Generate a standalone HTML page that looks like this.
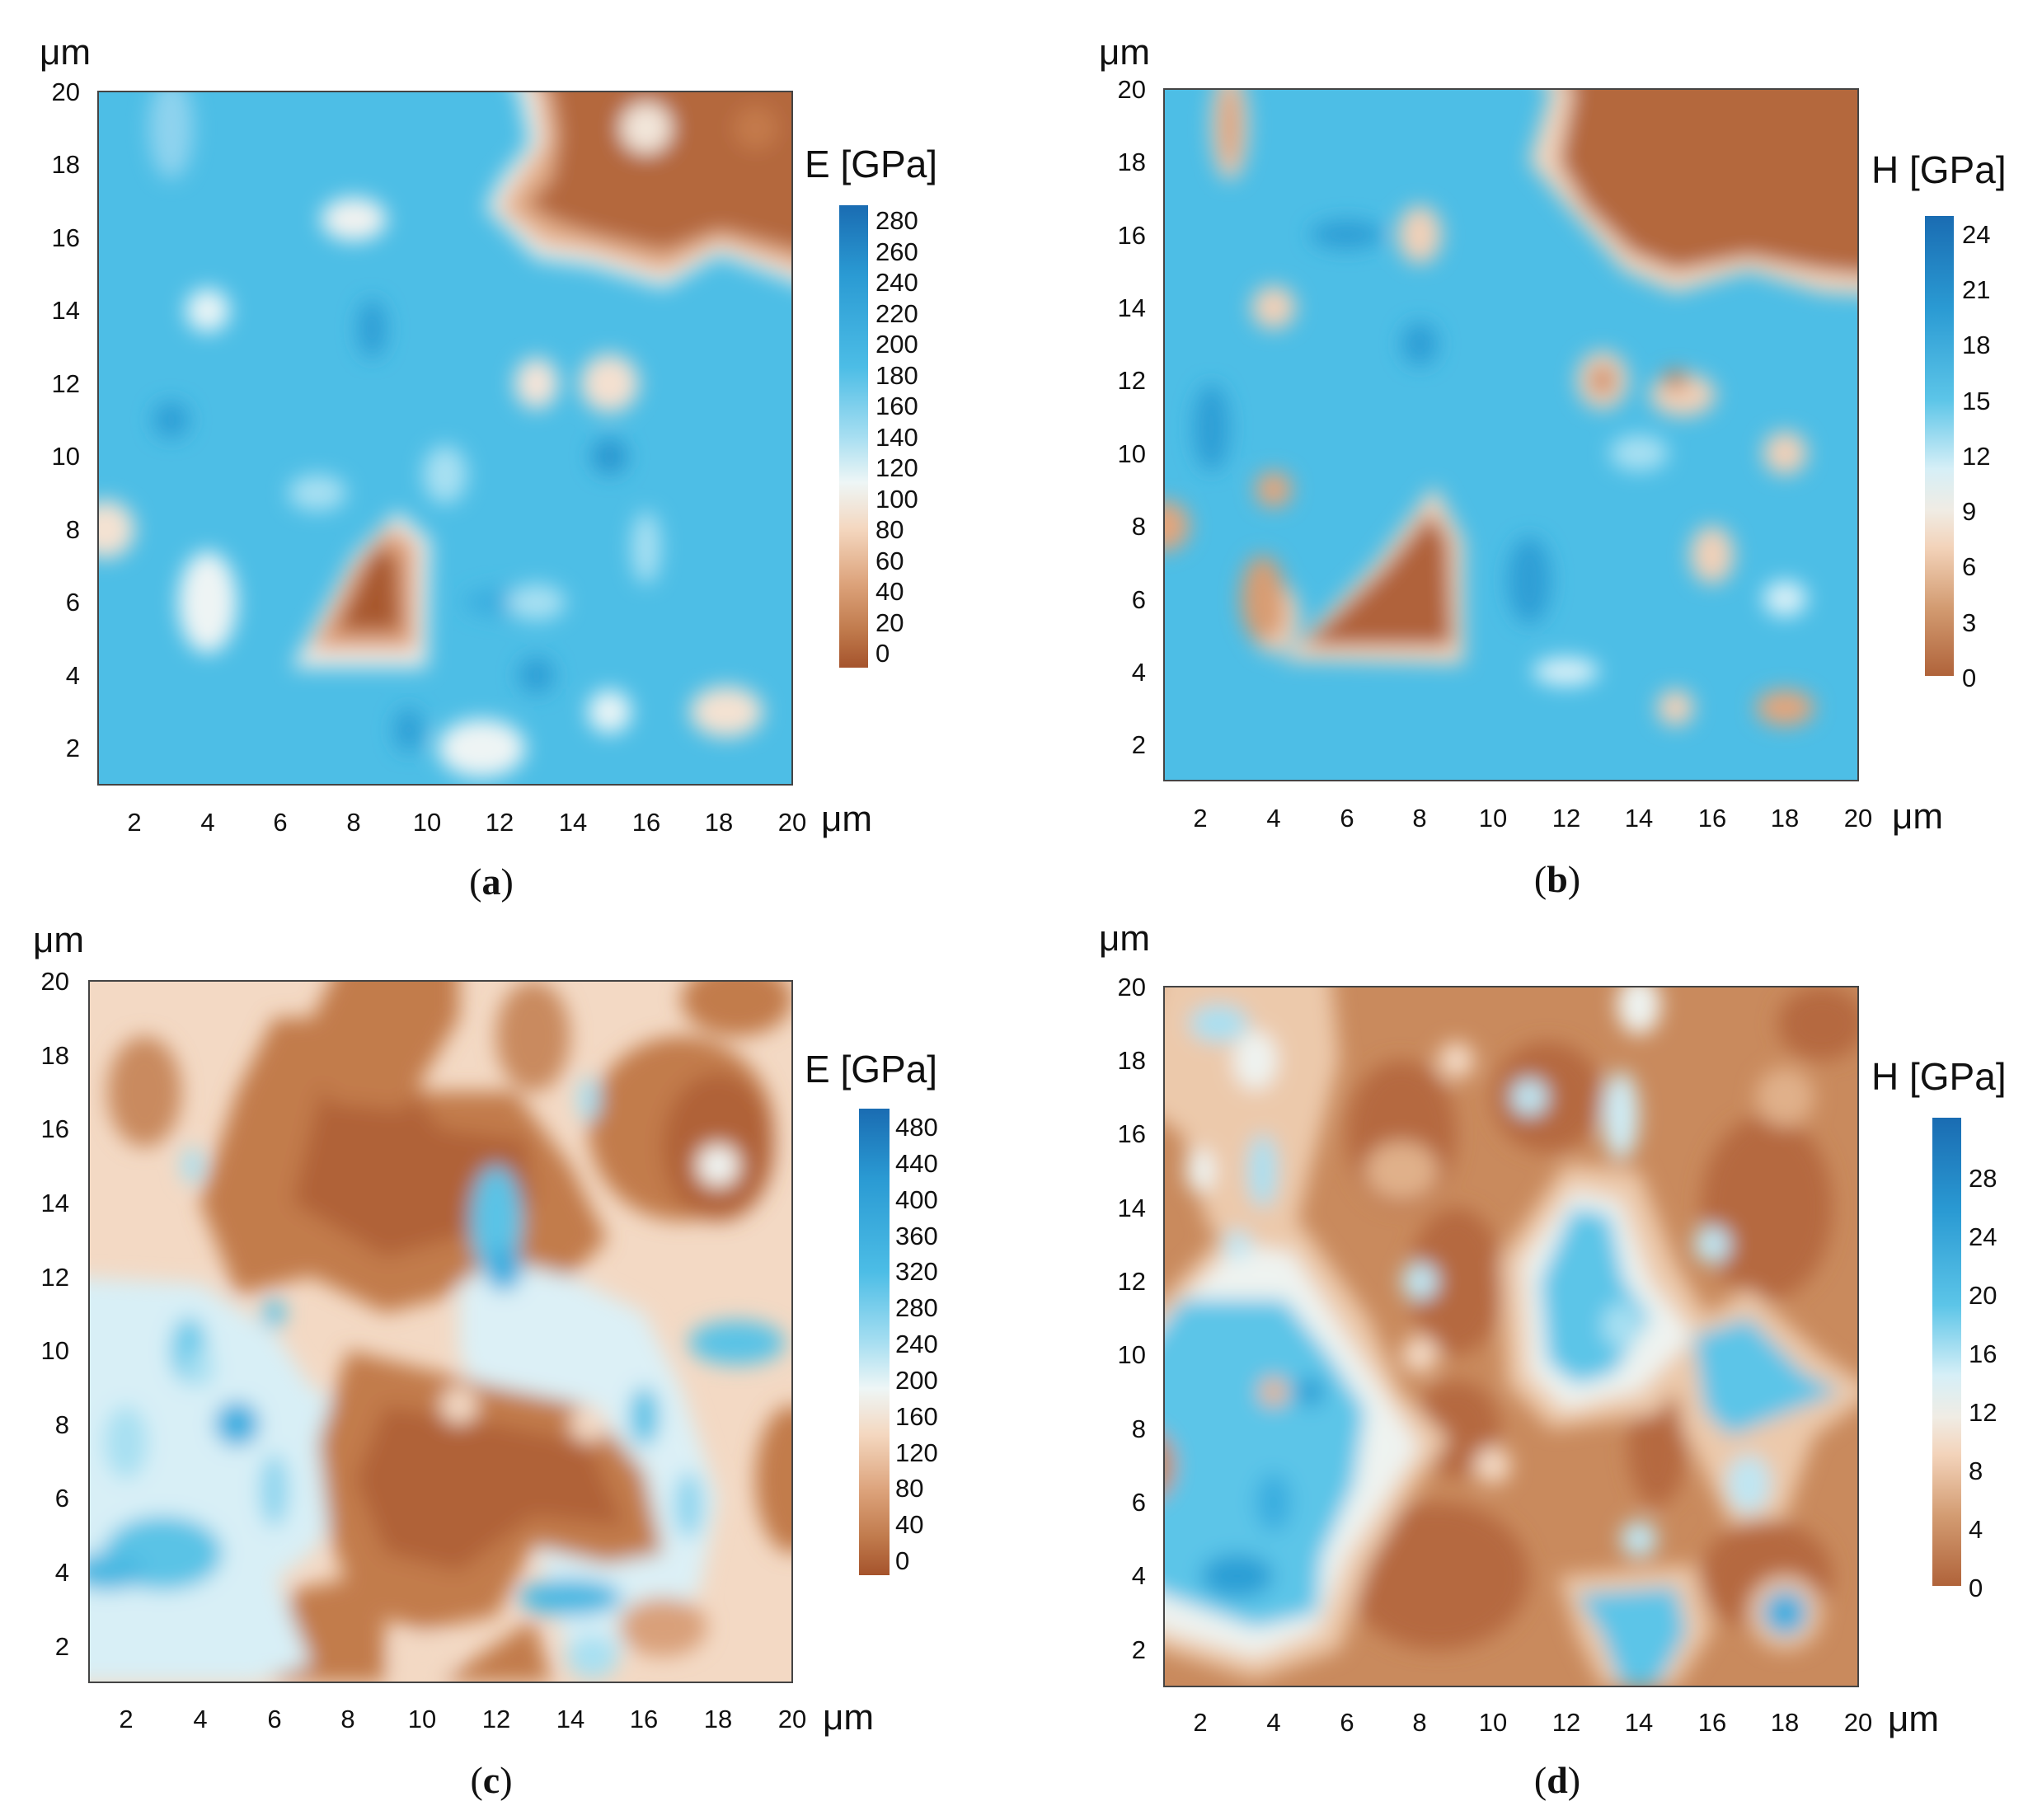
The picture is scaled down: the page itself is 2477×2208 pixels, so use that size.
<!DOCTYPE html>
<html><head><meta charset="utf-8"><style>
html,body{margin:0;padding:0;background:#fff}
svg{display:block}
text{font-family:"Liberation Sans",sans-serif;fill:#111}
.t{font-size:31px}
.u{font-size:44px}
.ti{font-size:46px}
.cap{font-family:"Liberation Serif",serif;font-size:46px}
</style></head><body>
<svg width="2477" height="2208" viewBox="0 0 2477 2208" xmlns="http://www.w3.org/2000/svg">
<defs>
<filter id="b" x="-20%" y="-20%" width="140%" height="140%"><feGaussianBlur stdDeviation="0.28"/></filter>
<linearGradient id="cbE" x1="0" y1="0" x2="0" y2="1">
<stop offset="0" stop-color="#1a6cb2"/><stop offset="0.15" stop-color="#2a9ad3"/><stop offset="0.35" stop-color="#4cbde6"/><stop offset="0.5" stop-color="#a6def1"/><stop offset="0.6" stop-color="#eef6f6"/><stop offset="0.7" stop-color="#f4d7bf"/><stop offset="0.82" stop-color="#dca27a"/><stop offset="0.92" stop-color="#c07a4c"/><stop offset="1" stop-color="#a5532c"/></linearGradient>
<linearGradient id="cbH" x1="0" y1="0" x2="0" y2="1">
<stop offset="0" stop-color="#1a6cb2"/><stop offset="0.2" stop-color="#2a9ad3"/><stop offset="0.4" stop-color="#5cc5e8"/><stop offset="0.55" stop-color="#d6eff7"/><stop offset="0.64" stop-color="#f0ece4"/><stop offset="0.72" stop-color="#f3d3ba"/><stop offset="0.85" stop-color="#d39c72"/><stop offset="1" stop-color="#b0633a"/></linearGradient>
<clipPath id="cp"><rect x="0" y="0" width="19" height="19"/></clipPath>
</defs>

<!-- Panel A -->
<svg x="119" y="111" width="842" height="841" viewBox="0 0 19 19" preserveAspectRatio="none">
<g clip-path="url(#cp)">
<rect x="-1" y="-1" width="21" height="21" fill="#4dbee6"/>
<g filter="url(#b)">
<ellipse cx="7.5" cy="6.5" rx="0.4" ry="0.8" fill="#2e9fd6"/>
<ellipse cx="2" cy="9" rx="0.5" ry="0.5" fill="#2e9fd6"/>
<ellipse cx="14" cy="10" rx="0.5" ry="0.5" fill="#2a97d0"/>
<ellipse cx="12" cy="16" rx="0.5" ry="0.5" fill="#2e9fd6"/>
<ellipse cx="8.5" cy="17.5" rx="0.4" ry="0.6" fill="#2e9fd6"/>
<ellipse cx="11.2" cy="14" rx="1.2" ry="0.4" fill="#3aaee0"/>
<ellipse cx="2" cy="1" rx="0.6" ry="1.4" fill="#8fd3ee"/>
<ellipse cx="7" cy="3.5" rx="0.9" ry="0.6" fill="#f0f2f0"/>
<ellipse cx="3" cy="6" rx="0.6" ry="0.6" fill="#e8f4f6"/>
<ellipse cx="12" cy="8" rx="0.6" ry="0.7" fill="#f4e4d8"/>
<ellipse cx="14" cy="8" rx="0.8" ry="0.8" fill="#f4e0d0"/>
<ellipse cx="3" cy="14" rx="0.8" ry="1.4" fill="#eef4f4"/>
<ellipse cx="10.5" cy="18" rx="1.2" ry="0.8" fill="#eef4f4"/>
<ellipse cx="17.2" cy="17" rx="1" ry="0.7" fill="#f4e2d2"/>
<ellipse cx="14" cy="17" rx="0.6" ry="0.6" fill="#e8f4f6"/>
<ellipse cx="0.2" cy="12" rx="0.8" ry="0.8" fill="#f4e2d2"/>
<ellipse cx="15" cy="12.5" rx="0.4" ry="1" fill="#a8e0f2"/>
<ellipse cx="9.5" cy="10.5" rx="0.6" ry="0.8" fill="#a8e0f2"/>
<ellipse cx="6" cy="11" rx="0.8" ry="0.5" fill="#a8e0f2"/>
<ellipse cx="12" cy="14" rx="0.8" ry="0.5" fill="#a8e0f2"/>
<path d="M10.8 -1 L20 -1 L20 5.6 L17 4.5 L15.5 5.4 L13.5 4.8 L12 4.6 L10.6 3.2 L11 2.4 L11.8 1.4 L11.5 0 Z" fill="#f0ece6"/>
<path d="M11.2 -1 L20 -1 L20 5.2 L17 4.2 L15.5 5 L13.5 4.4 L12.2 4.2 L11 3.2 L11.5 2.4 L12.2 1.4 L12 0 Z" fill="#e4b08c"/>
<path d="M11.7 -1 L20 -1 L20 4.6 L17 3.8 L15.5 4.4 L13.5 3.9 L12.6 3.6 L11.7 3.1 L12.4 2.4 L12.6 1.2 L12.4 0 Z" fill="#b4683c"/>
<circle cx="15" cy="1" r="0.7" fill="#f2e6da"/>
<circle cx="18" cy="1" r="0.6" fill="#c47a4c"/>
<path d="M5.3 15.8 L9 15.8 L9.1 12.3 L8.2 11.5 L7 12.7 Z" fill="#f0ece6"/>
<path d="M5.8 15.3 L8.7 15.3 L8.7 12.4 L8 11.9 L7 13 Z" fill="#dfa27c"/>
<path d="M6.5 14.8 L8.3 14.8 L8.2 12.8 L7.6 12.4 Z" fill="#a8582f"/>
</g>
</g></svg>

<!-- Panel B -->
<svg x="1412" y="108" width="842" height="839" viewBox="0 0 19 19" preserveAspectRatio="none">
<g clip-path="url(#cp)">
<rect x="-1" y="-1" width="21" height="21" fill="#4dbee6"/>
<g filter="url(#b)">
<ellipse cx="1.3" cy="9.3" rx="0.5" ry="1.2" fill="#2e9fd6"/>
<ellipse cx="7" cy="7" rx="0.5" ry="0.6" fill="#2e9fd6"/>
<ellipse cx="10" cy="13.5" rx="0.6" ry="1.2" fill="#2e9fd6"/>
<ellipse cx="5" cy="4" rx="1" ry="0.4" fill="#2e9fd6"/>
<ellipse cx="1.8" cy="1" rx="0.5" ry="1.5" fill="#f1d2bb"/>
<ellipse cx="1.8" cy="1" rx="0.25" ry="1.2" fill="#d79a70"/>
<ellipse cx="7" cy="4" rx="0.6" ry="0.8" fill="#f0d0b8"/>
<ellipse cx="3" cy="6" rx="0.6" ry="0.6" fill="#f0d0b8"/>
<ellipse cx="3" cy="11" rx="0.5" ry="0.5" fill="#e3a57c"/>
<ellipse cx="12" cy="8" rx="0.7" ry="0.8" fill="#f0d0b8"/>
<ellipse cx="12" cy="8" rx="0.3" ry="0.4" fill="#c87d4d"/>
<ellipse cx="14.2" cy="8.4" rx="0.9" ry="0.6" fill="#f0d0b8"/>
<ellipse cx="14" cy="8" rx="0.3" ry="0.3" fill="#c87d4d"/>
<ellipse cx="17" cy="10" rx="0.6" ry="0.6" fill="#f0d0b8"/>
<ellipse cx="15" cy="12.8" rx="0.6" ry="0.8" fill="#f0d0b8"/>
<ellipse cx="17" cy="17" rx="0.8" ry="0.5" fill="#e3a57c"/>
<ellipse cx="14" cy="17" rx="0.5" ry="0.5" fill="#f0d0b8"/>
<ellipse cx="0" cy="12" rx="0.7" ry="0.7" fill="#e3a57c"/>
<ellipse cx="3" cy="14.5" rx="0.7" ry="1" fill="#f0d0b8"/>
<ellipse cx="3" cy="14.5" rx="0.3" ry="0.5" fill="#d28f64"/>
<ellipse cx="11" cy="16" rx="0.9" ry="0.4" fill="#d6eff7"/>
<ellipse cx="17" cy="14" rx="0.6" ry="0.5" fill="#d6eff7"/>
<ellipse cx="13" cy="10" rx="0.8" ry="0.5" fill="#a8e0f2"/>
<path d="M9.6 -1 L20 -1 L20 5.7 L18 5.6 L16 5 L14 5.6 L12.6 5 L11 3.2 L10 2 L10.6 0 Z" fill="#f2d6c0"/>
<path d="M10.3 -1 L20 -1 L20 5.2 L18 5 L16 4.6 L14 5 L12.8 4.5 L11.5 3.2 L10.8 2 L11.2 0 Z" fill="#b4683c"/>
<path d="M3.2 15.7 L8.2 15.8 L8.2 12.4 L7.4 10.9 L5.8 13 Z" fill="#f2d6c0"/>
<path d="M3.8 15.3 L7.9 15.3 L7.8 12.4 L7.3 11.6 L6 13.2 Z" fill="#b0623a"/>
<ellipse cx="2.7" cy="14" rx="0.6" ry="1.2" fill="#d89c72"/>
</g>
</g></svg>

<!-- Panel C -->
<svg x="108" y="1190" width="853" height="851" viewBox="0 0 19 19" preserveAspectRatio="none">
<g clip-path="url(#cp)">
<rect x="-1" y="-1" width="21" height="21" fill="#f3d9c4"/>
<g filter="url(#b)">
<path d="M-1 8 L3 8.2 L5 9.5 L6 11 L8 12 L7.5 13.5 L6 15.5 L4 17 L2 19 L-1 19 Z" fill="#d8eff6"/>
<path d="M10 6.5 L12 6 L13 8 L15 9 L16 11 L17 14 L16.5 16.5 L15 18 L13 18.5 L12 15 L11 13 L10 10 Z" fill="#dcf0f6"/>
<path d="M5 1 L8 1 L9 3 L11.5 3 L13 5 L14 7 L13 8 L11 7.5 L9.5 8.6 L8 9 L6 8 L4 8.5 L3 6 L4 3 Z" fill="#c27c4c"/>
<path d="M6.5 2 L8 2 L9.5 4 L11.8 4.3 L12 6 L10.5 6.8 L8 7.5 L5.5 6 Z" fill="#b06238"/>
<path d="M7 10 L9 10.5 L11 11 L13.5 11.5 L15 13.3 L15.5 15.5 L14 15.8 L12 15.3 L11 17.2 L9 17.6 L7.2 17 L6.5 15 L6.2 12.5 Z" fill="#c27c4c"/>
<path d="M8 11.5 L11 12 L13.5 12.5 L14.5 14.8 L12 14.5 L10 16 L8 15.5 L7.2 13.5 Z" fill="#b06238"/>
<path d="M9.5 19 L12 17.3 L12.5 19 Z" fill="#c27c4c"/>
<path d="M5.5 16.5 L8 16 L8 19 L5 19 Z" fill="#c27c4c"/>
<ellipse cx="9" cy="18.3" rx="0.8" ry="0.6" fill="#f3d9c4"/>
<ellipse cx="16" cy="4" rx="2.5" ry="2.5" fill="#c27c4c"/>
<ellipse cx="17" cy="4.5" rx="1.5" ry="2" fill="#b06238"/>
<ellipse cx="19" cy="13.5" rx="1" ry="2" fill="#c27c4c"/>
<ellipse cx="17.5" cy="0.5" rx="1.5" ry="1" fill="#c27c4c"/>
<ellipse cx="15.5" cy="17.5" rx="1.2" ry="0.8" fill="#d9a07a"/>
<ellipse cx="1.5" cy="3" rx="1" ry="1.5" fill="#c98a5e"/>
<ellipse cx="12" cy="1.5" rx="1" ry="1.5" fill="#c98a5e"/>
<path d="M7 -1 L10 -1 L10 1 L8.5 3.5 L6.5 3.3 L5.8 1.5 Z" fill="#c27c4c"/>
<ellipse cx="10" cy="11.5" rx="0.5" ry="0.5" fill="#f3d9c4"/>
<ellipse cx="13.5" cy="12" rx="0.5" ry="0.5" fill="#f3d9c4"/>
<ellipse cx="17" cy="5" rx="0.6" ry="0.6" fill="#f3d9c4"/>
<path d="M-1 18 L1 16.5 L3.5 14.5 L5 16 L6 18.5 L4.5 19 L-1 19 Z" fill="#d8eff6"/>
<ellipse cx="2" cy="15.5" rx="1.6" ry="1" fill="#5ac3e6"/>
<ellipse cx="0.5" cy="16" rx="1" ry="0.5" fill="#4ab8e2"/>
<ellipse cx="2.7" cy="10" rx="0.5" ry="0.9" fill="#6ecbea"/>
<ellipse cx="4" cy="12" rx="0.6" ry="0.6" fill="#3aaee0"/>
<ellipse cx="3" cy="10.5" rx="0.4" ry="0.5" fill="#a8e0f2"/>
<ellipse cx="5" cy="9" rx="0.3" ry="0.4" fill="#5ac3e6"/>
<ellipse cx="1" cy="12.5" rx="0.6" ry="1" fill="#a8e0f2"/>
<ellipse cx="5" cy="13.8" rx="0.4" ry="1" fill="#8fd6ef"/>
<ellipse cx="11" cy="6.5" rx="0.7" ry="1.5" fill="#5ac3e6"/>
<ellipse cx="11.2" cy="7.8" rx="0.5" ry="0.6" fill="#3aaee0"/>
<ellipse cx="17.5" cy="9.8" rx="1.3" ry="0.6" fill="#5ac3e6"/>
<ellipse cx="15" cy="11.8" rx="0.4" ry="0.8" fill="#5ac3e6"/>
<ellipse cx="16.2" cy="14.2" rx="0.4" ry="0.9" fill="#8fd6ef"/>
<ellipse cx="13" cy="16.7" rx="1.4" ry="0.5" fill="#4ab8e2"/>
<ellipse cx="13.6" cy="18.3" rx="0.7" ry="0.6" fill="#a8e0f2"/>
<ellipse cx="13.5" cy="3.2" rx="0.3" ry="0.6" fill="#a8e0f2"/>
<ellipse cx="2.8" cy="5" rx="0.3" ry="0.5" fill="#a8e0f2"/>
<ellipse cx="17" cy="5" rx="0.45" ry="0.45" fill="#eef6f6"/>
</g>
</g></svg>

<!-- Panel D -->
<svg x="1412" y="1197" width="842" height="849" viewBox="0 0 19 19" preserveAspectRatio="none">
<g clip-path="url(#cp)">
<rect x="-1" y="-1" width="21" height="21" fill="#c98a5d"/>
<g filter="url(#b)">
<ellipse cx="3" cy="2" rx="1.5" ry="2" fill="#b5693f"/>
<ellipse cx="6.5" cy="4" rx="1.5" ry="2" fill="#b5693f"/>
<ellipse cx="8" cy="8" rx="1.3" ry="2" fill="#b5693f"/>
<ellipse cx="10.5" cy="3" rx="1.5" ry="1.5" fill="#b5693f"/>
<ellipse cx="16.5" cy="6" rx="1.8" ry="2.5" fill="#b5693f"/>
<ellipse cx="8" cy="12" rx="1.2" ry="1.3" fill="#b5693f"/>
<ellipse cx="13.5" cy="12.5" rx="0.8" ry="1.6" fill="#b5693f"/>
<ellipse cx="7.5" cy="16" rx="2.5" ry="2" fill="#b5693f"/>
<ellipse cx="16.5" cy="16" rx="1.8" ry="1.5" fill="#b5693f"/>
<ellipse cx="18" cy="1" rx="1.2" ry="1" fill="#b5693f"/>
<ellipse cx="6.5" cy="5" rx="1" ry="0.8" fill="#e0b08a"/>
<ellipse cx="17" cy="3" rx="0.8" ry="0.8" fill="#e0b08a"/>
<!-- tan halos -->
<path d="M0 -1 L4.5 -1 L4.8 2 L4 5 L3.5 7 L2.5 7.5 L1.2 6.5 L0.5 4 L-1 3 Z" fill="#ecc9ab"/>
<path d="M-1 9.5 L2 6.3 L3.8 6.5 L5.6 9 L6.5 11 L7.8 12.3 L6.6 14 L5.6 15.7 L4.8 18 L2.5 18.8 L0 18 L-1 17.5 Z" fill="#ecc9ab"/>
<path d="M9.2 7.4 L11 4.8 L13 5 L14 7.5 L15.2 9.5 L13.5 11.6 L12 11.8 L10.6 12 L9.4 10.8 Z" fill="#ecc9ab"/>
<path d="M13.8 9.6 L16 8.2 L18 10 L19.5 11 L17.8 12.2 L17 14.4 L15.5 14.6 L14.2 12 Z" fill="#ecc9ab"/>
<path d="M10.8 16 L14.5 15.7 L15 17.5 L14 19 L12 19 L11.3 17.6 Z" fill="#ecc9ab"/>
<circle cx="17" cy="17" r="1" fill="#ecc9ab"/>
<path d="M-1 10 L2 7 L3.5 7.2 L5 9.5 L6 11 L7 12.5 L6 14 L5 15.5 L4.2 17.5 L2.5 18.2 L0 17.5 L-1 17 Z" fill="#eef3f0"/>
<path d="M-1 10.5 L0.5 8.5 L3.3 8.5 L4.5 10 L5.5 11.5 L5.2 13.5 L4.3 15.5 L4.2 17 L2.5 17.4 L0 16.5 L-1 16 Z" fill="#5cc5e8"/>
<ellipse cx="2" cy="16" rx="1" ry="0.6" fill="#2c9fd6"/>
<ellipse cx="3" cy="14" rx="0.5" ry="0.8" fill="#3aaee0"/>
<ellipse cx="4" cy="11" rx="0.4" ry="0.4" fill="#2c9fd6"/>
<ellipse cx="3" cy="11" rx="0.4" ry="0.4" fill="#e6b48e"/>
<ellipse cx="-0.5" cy="13" rx="0.8" ry="1" fill="#c98a5d"/>
<path d="M9.8 7.5 L11.2 5.5 L12.5 5.8 L13.3 8 L14.5 9.5 L13 11 L12 11.2 L11 11.5 L10 10.5 Z" fill="#eef3f0"/>
<path d="M10.3 8 L11.2 6 L12.2 6.2 L12.6 8 L13.3 9 L12.3 10.5 L11.3 10.8 L10.5 10.2 Z" fill="#5cc5e8"/>
<ellipse cx="12.5" cy="9.2" rx="0.5" ry="0.6" fill="#a8e0f2"/>
<path d="M14.5 9.5 L16 9 L17.5 10.5 L18.5 11 L17.2 11.5 L15.5 12.2 L14.8 11.5 Z" fill="#5cc5e8"/>
<ellipse cx="16" cy="13.5" rx="0.6" ry="0.8" fill="#bfe6f3"/>
<ellipse cx="12.5" cy="3.5" rx="0.5" ry="1.2" fill="#cfecf5"/>
<path d="M11.3 16.5 L14 16.3 L14.3 17.5 L13.5 19 L12.5 19 L12 17.6 Z" fill="#5cc5e8"/>
<ellipse cx="17" cy="17" rx="0.6" ry="0.6" fill="#3aaee0"/>
<ellipse cx="1.5" cy="1" rx="0.8" ry="0.5" fill="#a8e0f2"/>
<ellipse cx="2.5" cy="2" rx="0.6" ry="0.8" fill="#eef3f0"/>
<ellipse cx="2.7" cy="5" rx="0.4" ry="1" fill="#a8e0f2"/>
<ellipse cx="1" cy="5" rx="0.4" ry="0.6" fill="#eef3f0"/>
<ellipse cx="2" cy="7" rx="0.4" ry="0.4" fill="#bfe6f3"/>
<ellipse cx="7" cy="8" rx="0.5" ry="0.5" fill="#bfe6f3"/>
<ellipse cx="10" cy="3" rx="0.5" ry="0.5" fill="#bfe6f3"/>
<ellipse cx="15" cy="7" rx="0.5" ry="0.5" fill="#bfe6f3"/>
<ellipse cx="13" cy="15" rx="0.5" ry="0.5" fill="#bfe6f3"/>
<ellipse cx="7" cy="10" rx="0.5" ry="0.5" fill="#f3d9c4"/>
<ellipse cx="9" cy="13" rx="0.5" ry="0.5" fill="#f3d9c4"/>
<ellipse cx="13" cy="0.5" rx="0.6" ry="0.8" fill="#eef3f0"/>
<ellipse cx="8" cy="2" rx="0.5" ry="0.5" fill="#f3d9c4"/>
</g>
</g></svg>

<g fill="none" stroke="#444" stroke-width="2">
<rect x="119" y="111" width="842" height="841"/>
<rect x="1412" y="108" width="842" height="839"/>
<rect x="108" y="1190" width="853" height="851"/>
<rect x="1412" y="1197" width="842" height="849"/>
</g>

<g class="t" text-anchor="end">
<text x="97" y="122">20</text><text x="97" y="210">18</text><text x="97" y="299">16</text><text x="97" y="387">14</text><text x="97" y="476">12</text><text x="97" y="564">10</text><text x="97" y="653">8</text><text x="97" y="741">6</text><text x="97" y="830">4</text><text x="97" y="918">2</text>
</g>
<g class="t" text-anchor="middle">
<text x="163" y="1008">2</text><text x="252" y="1008">4</text><text x="340" y="1008">6</text><text x="429" y="1008">8</text><text x="518" y="1008">10</text><text x="606" y="1008">12</text><text x="695" y="1008">14</text><text x="784" y="1008">16</text><text x="872" y="1008">18</text><text x="961" y="1008">20</text>
</g>
<text class="u" x="48" y="78">μm</text>
<text class="u" x="996" y="1008">μm</text>
<text class="cap" x="596" y="1085" text-anchor="middle">(<tspan font-weight="bold">a</tspan>)</text>
<text class="ti" x="976" y="215">E [GPa]</text>
<rect x="1018" y="249" width="35" height="561" fill="url(#cbE)"/>
<g class="t"><text x="1062" y="278">280</text><text x="1062" y="316">260</text><text x="1062" y="353">240</text><text x="1062" y="391">220</text><text x="1062" y="428">200</text><text x="1062" y="466">180</text><text x="1062" y="503">160</text><text x="1062" y="541">140</text><text x="1062" y="578">120</text><text x="1062" y="616">100</text><text x="1062" y="653">80</text><text x="1062" y="691">60</text><text x="1062" y="728">40</text><text x="1062" y="766">20</text><text x="1062" y="803">0</text></g>

<g class="t" text-anchor="end">
<text x="1390" y="119">20</text><text x="1390" y="207">18</text><text x="1390" y="296">16</text><text x="1390" y="384">14</text><text x="1390" y="472">12</text><text x="1390" y="561">10</text><text x="1390" y="649">8</text><text x="1390" y="738">6</text><text x="1390" y="826">4</text><text x="1390" y="914">2</text>
</g>
<g class="t" text-anchor="middle">
<text x="1456" y="1003">2</text><text x="1545" y="1003">4</text><text x="1634" y="1003">6</text><text x="1722" y="1003">8</text><text x="1811" y="1003">10</text><text x="1900" y="1003">12</text><text x="1988" y="1003">14</text><text x="2077" y="1003">16</text><text x="2165" y="1003">18</text><text x="2254" y="1003">20</text>
</g>
<text class="u" x="1333" y="78">μm</text>
<text class="u" x="2295" y="1005">μm</text>
<text class="cap" x="1889" y="1082" text-anchor="middle">(<tspan font-weight="bold">b</tspan>)</text>
<text class="ti" x="2270" y="222">H [GPa]</text>
<rect x="2335" y="262" width="35" height="558" fill="url(#cbH)"/>
<g class="t"><text x="2380" y="295">24</text><text x="2380" y="362">21</text><text x="2380" y="429">18</text><text x="2380" y="497">15</text><text x="2380" y="564">12</text><text x="2380" y="631">9</text><text x="2380" y="698">6</text><text x="2380" y="766">3</text><text x="2380" y="833">0</text></g>

<g class="t" text-anchor="end">
<text x="84" y="1201">20</text><text x="84" y="1291">18</text><text x="84" y="1380">16</text><text x="84" y="1470">14</text><text x="84" y="1560">12</text><text x="84" y="1649">10</text><text x="84" y="1739">8</text><text x="84" y="1828">6</text><text x="84" y="1918">4</text><text x="84" y="2008">2</text>
</g>
<g class="t" text-anchor="middle">
<text x="153" y="2096">2</text><text x="243" y="2096">4</text><text x="333" y="2096">6</text><text x="422" y="2096">8</text><text x="512" y="2096">10</text><text x="602" y="2096">12</text><text x="692" y="2096">14</text><text x="781" y="2096">16</text><text x="871" y="2096">18</text><text x="961" y="2096">20</text>
</g>
<text class="u" x="40" y="1155">μm</text>
<text class="u" x="998" y="2098">μm</text>
<text class="cap" x="596" y="2175" text-anchor="middle">(<tspan font-weight="bold">c</tspan>)</text>
<text class="ti" x="976" y="1313">E [GPa]</text>
<rect x="1042" y="1345" width="37" height="566" fill="url(#cbE)"/>
<g class="t"><text x="1086" y="1378">480</text><text x="1086" y="1422">440</text><text x="1086" y="1466">400</text><text x="1086" y="1510">360</text><text x="1086" y="1553">320</text><text x="1086" y="1597">280</text><text x="1086" y="1641">240</text><text x="1086" y="1685">200</text><text x="1086" y="1729">160</text><text x="1086" y="1773">120</text><text x="1086" y="1816">80</text><text x="1086" y="1860">40</text><text x="1086" y="1904">0</text></g>

<g class="t" text-anchor="end">
<text x="1390" y="1208">20</text><text x="1390" y="1297">18</text><text x="1390" y="1386">16</text><text x="1390" y="1476">14</text><text x="1390" y="1565">12</text><text x="1390" y="1654">10</text><text x="1390" y="1744">8</text><text x="1390" y="1833">6</text><text x="1390" y="1922">4</text><text x="1390" y="2012">2</text>
</g>
<g class="t" text-anchor="middle">
<text x="1456" y="2100">2</text><text x="1545" y="2100">4</text><text x="1634" y="2100">6</text><text x="1722" y="2100">8</text><text x="1811" y="2100">10</text><text x="1900" y="2100">12</text><text x="1988" y="2100">14</text><text x="2077" y="2100">16</text><text x="2165" y="2100">18</text><text x="2254" y="2100">20</text>
</g>
<text class="u" x="1333" y="1153">μm</text>
<text class="u" x="2290" y="2100">μm</text>
<text class="cap" x="1889" y="2175" text-anchor="middle">(<tspan font-weight="bold">d</tspan>)</text>
<text class="ti" x="2270" y="1322">H [GPa]</text>
<rect x="2344" y="1356" width="35" height="568" fill="url(#cbH)"/>
<g class="t"><text x="2388" y="1440">28</text><text x="2388" y="1511">24</text><text x="2388" y="1582">20</text><text x="2388" y="1653">16</text><text x="2388" y="1724">12</text><text x="2388" y="1795">8</text><text x="2388" y="1866">4</text><text x="2388" y="1937">0</text></g>
</svg>
</body></html>
